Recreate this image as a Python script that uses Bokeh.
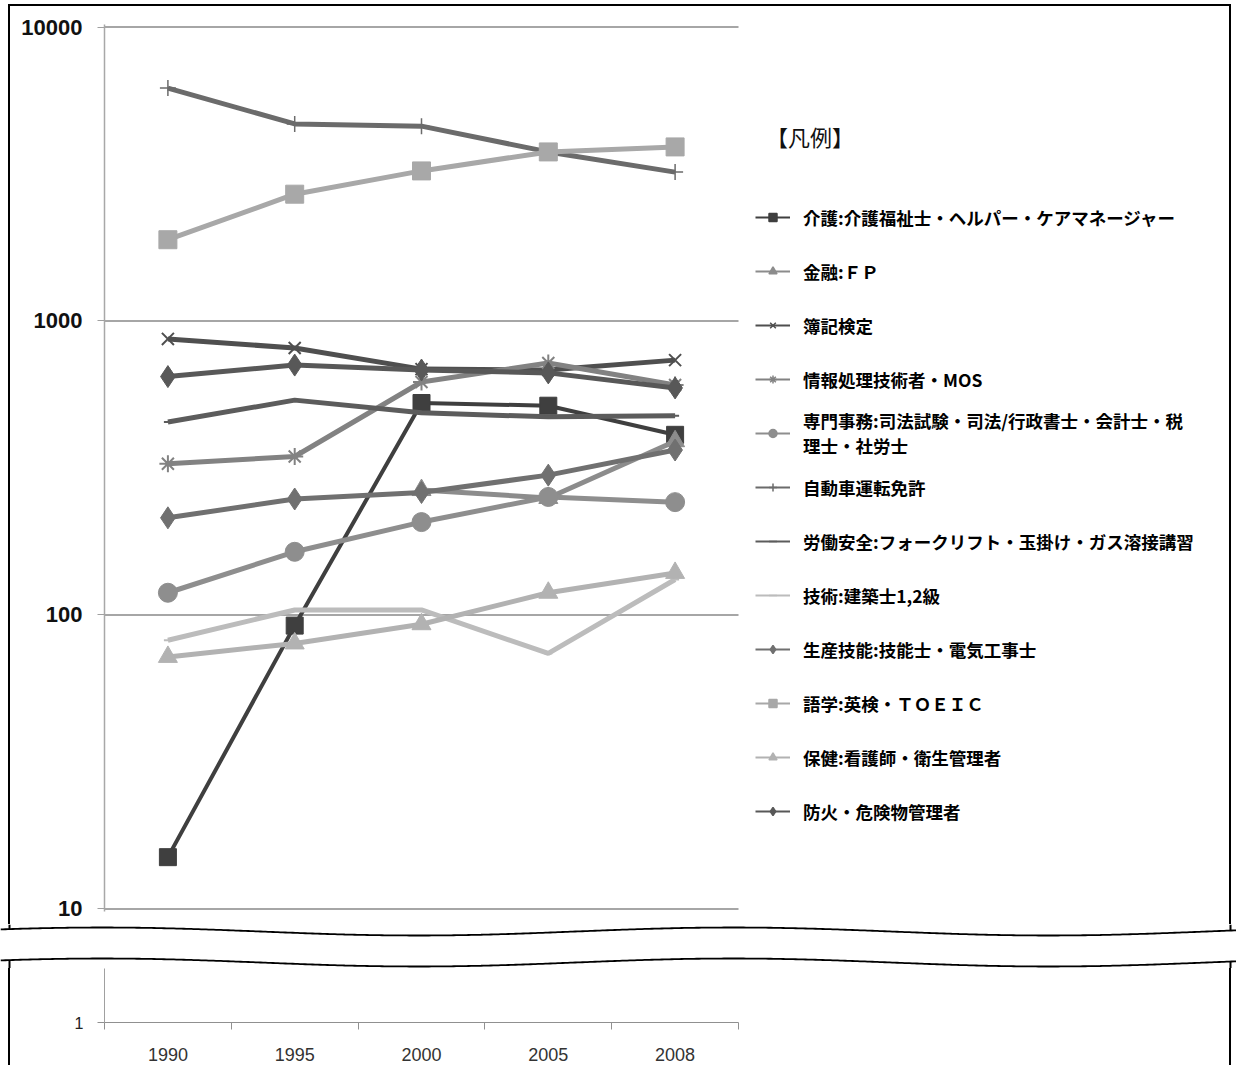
import numpy as np
from bokeh.plotting import figure
from bokeh.models import (Range1d, FixedTicker, NumeralTickFormatter,
                          Legend, LegendItem, Div, ColumnDataSource)
from bokeh.layouts import column, row
from bokeh.embed import file_html
from bokeh.resources import INLINE

nan = float("nan")
years = ["1990", "1995", "2000", "2005", "2008"]

kaigo = [15, 92, 526, 515, 410]
kinyu = [nan, nan, 266, 250, 390]
boki = [869, 809, 686, 681, 736]
jouhou = [327, 346, 620, 720, 606]
senmon = [119, 164, 207, 252, 242]
jidosha = [6200, 4680, 4600, 3760, 3210]
roudou = [453, 538, 487, 472, 476]
gijutsu = [82, 104, 104, 74, 132]
seisan = [214, 248, 261, 299, 364]
gogaku = [1890, 2700, 3240, 3760, 3910]
hoken = [72, 80, 93, 119, 139]
bouka = [647, 708, 681, 666, 592]

series_names = [
    "介護:介護福祉士・ヘルパー・ケアマネージャー",
    "金融:ＦＰ",
    "簿記検定",
    "情報処理技術者・MOS",
    "専門事務:司法試験・司法/行政書士・会計士・税\n理士・社労士",
    "自動車運転免許",
    "労働安全:フォークリフト・玉掛け・ガス溶接講習",
    "技術:建築士1,2級",
    "生産技能:技能士・電気工事士",
    "語学:英検・ＴＯＥＩＣ",
    "保健:看護師・衛生管理者",
    "防火・危険物管理者",
]
series_values = [kaigo, kinyu, boki, jouhou, senmon, jidosha, roudou,
                 gijutsu, seisan, gogaku, hoken, bouka]
y_ticks = [10, 100, 1000, 10000]

# styles: (color, marker, marker size, line width)
styles = [
    ("#3f3f3f", "square", 17, 4),
    ("#8c8c8c", "triangle", 19, 5),
    ("#4f4f4f", "x", 17, 5),
    ("#828282", "asterisk", 17, 5),
    ("#8e8e8e", "circle", 19, 5),
    ("#6b6b6b", "cross", 16, 5),
    ("#5c5c5c", "dash", 8, 5),
    ("#bcbcbc", "dash", 8, 5),
    ("#707070", "diamond", 22, 5),
    ("#a8a8a8", "square", 18, 5),
    ("#b2b2b2", "triangle", 19, 5),
    ("#585858", "diamond", 22, 5),
]

# category positions (category i occupies [i, i+1])
xpos = [i + 0.5 for i in range(len(years))]
data = {"x": xpos, "year": years}
for i, v in enumerate(series_values):
    data[f"s{i}"] = v
src = ColumnDataSource(data)

# ---------- upper plot ----------
A_W, A_H = 1219, 918
LEFT = 94
CAT_PX = 634                      # pixel width taken by the five categories
X_END = len(years) * (A_W - LEFT) / CAT_PX
A = figure(width=A_W, height=A_H, x_range=Range1d(0, X_END),
           y_axis_type="log", y_range=Range1d(9.8, 10200),
           x_axis_location=None, toolbar_location=None, output_backend="svg",
           min_border_left=LEFT, min_border_right=0, min_border_top=18,
           min_border_bottom=13)
A.outline_line_color = None
A.grid.visible = False
# horizontal gridlines limited to the category area
A.segment(x0=0, x1=len(years), y0=y_ticks, y1=y_ticks,
          line_color="#a6a6a6", line_width=2)
ya = A.yaxis[0]
ya.ticker = FixedTicker(ticks=y_ticks)
ya.formatter = NumeralTickFormatter(format="0")
ya.minor_tick_line_color = None
ya.major_tick_out = 7
ya.major_tick_in = 0
ya.major_tick_line_color = "#a0a0a0"
ya.axis_line_color = "#a8a8a8"
ya.axis_line_width = 1.5
ya.major_label_text_font = "Liberation Sans"
ya.major_label_text_font_style = "bold"
ya.major_label_text_font_size = "22px"
ya.major_label_text_color = "#111111"
ya.major_label_standoff = 15

items = []
for i, name in enumerate(series_names):
    col, mk, ms, lw = styles[i]
    A.line("x", f"s{i}", source=src, line_color=col, line_width=lw)
    if mk in ("x", "asterisk", "cross", "dash"):
        A.scatter("x", f"s{i}", source=src, marker=mk, size=ms,
                  line_color=col, line_width=2 if mk != "cross" else 1.5,
                  fill_color=col)
    else:
        A.scatter("x", f"s{i}", source=src, marker=mk, size=ms,
                  line_color=col, fill_color=col)
    # thin legend-sample renderers (hidden in the plot)
    pl = A.line("x", f"s{i}", source=src, line_color=col, line_width=2,
                visible=False)
    ps = A.scatter("x", f"s{i}", source=src, marker=mk, size=9,
                   line_color=col, fill_color=col, line_width=1.5,
                   visible=False)
    items.append(LegendItem(label=name, renderers=[pl, ps]))

legend = Legend(items=items, location=(651, 73), orientation="vertical",
                glyph_width=35, glyph_height=20, label_height=54,
                label_standoff=13, spacing=0, padding=0, margin=0,
                border_line_color=None, background_fill_alpha=0,
                label_text_font="Noto Sans CJK JP", label_text_font_style="bold",
                label_text_font_size="17.5px", label_text_color="#000000",
                title="\u2002【凡例】", title_text_font="Noto Sans CJK JP",
                title_text_font_style="normal", title_text_font_size="22px",
                title_text_color="#111111",
                title_standoff=38, click_policy="none")
A.add_layout(legend)

# ---------- break (wave) strip ----------
W_W, W_H = 1236, 44
W = figure(width=W_W, height=W_H, x_range=Range1d(0, W_W), y_range=Range1d(W_H, 0),
           toolbar_location=None, output_backend="svg", min_border=0,
           x_axis_location=None, y_axis_location=None)
W.outline_line_color = None
W.grid.visible = False
wx = np.linspace(0, W_W, 500)
phase = 2 * np.pi * (wx - 102) / 631.0
W.line(wx, 7 - 4 * np.cos(phase), line_color="black", line_width=1.8)
W.line(wx, 38 - 4 * np.cos(phase), line_color="black", line_width=1.8)
for bx in (9, 1230):
    ph = 2 * np.pi * (bx - 102) / 631.0
    W.segment(x0=[bx, bx], y0=[0, 38 - 4 * np.cos(ph)], x1=[bx, bx],
              y1=[7 - 4 * np.cos(ph), W_H], line_color="black", line_width=2)

# ---------- lower plot ----------
B_H = 97
B = figure(width=A_W, height=B_H, x_range=Range1d(0, len(years)),
           y_axis_type="log", y_range=Range1d(1, 1.8),
           toolbar_location=None, output_backend="svg",
           min_border_left=LEFT, min_border_right=A_W - LEFT - CAT_PX,
           min_border_top=0, min_border_bottom=B_H - 54)
B.outline_line_color = None
B.grid.visible = False
yb = B.yaxis[0]
yb.ticker = FixedTicker(ticks=[1])
yb.formatter = NumeralTickFormatter(format="0")
yb.minor_tick_line_color = None
yb.major_tick_out = 7
yb.major_tick_in = 0
yb.major_tick_line_color = "#909090"
yb.axis_line_color = "#a0a0a0"
yb.major_label_text_font = "Liberation Sans"
yb.major_label_text_font_size = "16px"
yb.major_label_text_color = "#222222"
yb.major_label_standoff = 14
xb = B.xaxis[0]
xb.ticker = FixedTicker(ticks=xpos, minor_ticks=list(range(len(years) + 1)))
xb.major_label_overrides = {c: y for c, y in zip(xpos, years)}
xb.major_tick_line_color = None
xb.minor_tick_line_color = "#909090"
xb.minor_tick_out = 7
xb.minor_tick_in = 0
xb.axis_line_color = "#909090"
xb.major_label_text_font = "Liberation Sans"
xb.major_label_text_font_size = "18px"
xb.major_label_text_color = "#333333"
xb.major_label_standoff = 18


def bar(w, h):
    return Div(text="", width=w, height=h, margin=0,
               styles={"background-color": "black"})


top_bar = Div(text="", width=1223, height=2, margin=(4, 0, 0, 8),
              styles={"background-color": "black"})

layout = column(
    top_bar,
    row(bar(2, A_H), A, bar(2, A_H), spacing=0, margin=(0, 0, 0, 8)),
    W,
    row(bar(2, B_H), B, bar(2, B_H), spacing=0, margin=(0, 0, 0, 8)),
    spacing=0, margin=0,
)

open("out.html", "w").write(file_html(layout, INLINE))
